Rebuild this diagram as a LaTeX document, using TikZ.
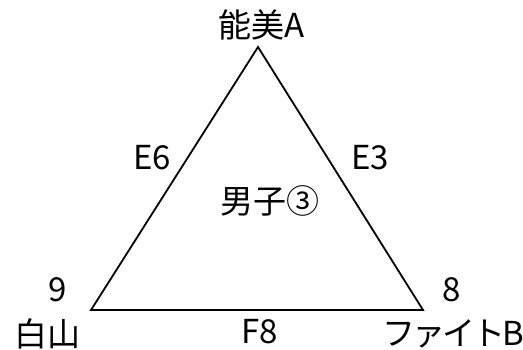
\documentclass[tikz,border=0pt]{standalone}
\usepackage{fontspec}
\setmainfont{Noto Sans CJK JP}
\begin{document}
\begin{tikzpicture}[x=1pt,y=-1pt,
  lbl/.style={inner sep=0pt,font=\fontsize{33}{35}\selectfont},
  tight/.style={font=\fontsize{33}{35}\selectfont\addfontfeature{LetterSpace=-9}},
  edge/.style={line width=1.8pt,line join=miter}]
\useasboundingbox (0,0) rectangle (523,350);
\coordinate (nomi) at (258,47);
\coordinate (hakusan) at (91,310);
\coordinate (fight) at (423,310);
\draw[edge] (nomi) -- (hakusan) -- (fight) -- cycle;
\node[lbl] (tnomi) at (262,25) {能美A};
\node[lbl] (te6) at (152,158) {E6};
\node[lbl] (te3) at (370,158) {E3};
\node[lbl] (tmale) at (270,201) {男子③};
\node[lbl] (t9) at (58,290) {9};
\node[lbl] (t8) at (452,290) {8};
\node[lbl] (thaku) at (48,334) {白山};
\node[lbl] (tf8) at (260,332) {F8};
\node[lbl,tight] (tfight) at (453,334) {ファイトB};
\end{tikzpicture}
\end{document}
